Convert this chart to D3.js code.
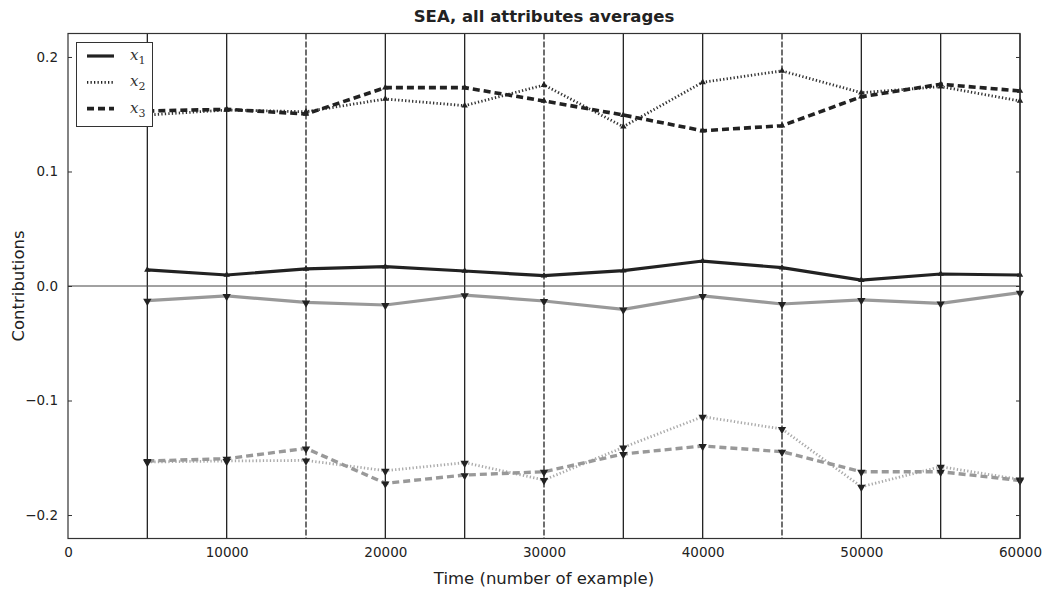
<!DOCTYPE html>
<html>
<head>
<meta charset="utf-8">
<script src="https://cdn.jsdelivr.net/npm/d3@7"></script>
<style>
  body { margin: 0; background: #fff; }
  svg { font-family: "DejaVu Sans", sans-serif; }
</style>
</head>
<body>
<svg id="chart" width="1048" height="592"></svg>
<script>
// time points (number of example)
const times = [5000, 10000, 15000, 20000, 25000, 30000, 35000, 40000, 45000, 50000, 55000, 60000];
const dashedTimes = [15000, 30000, 45000];

// positive contributions
const x1Pos = [0.0140, 0.0096, 0.0149, 0.0169, 0.0131, 0.0090, 0.0134, 0.0218, 0.0160, 0.0052, 0.0105, 0.0096];
const x2Pos = [0.1493, 0.1537, 0.1522, 0.1633, 0.1575, 0.1755, 0.1391, 0.1779, 0.1878, 0.1688, 0.1741, 0.1616];
const x3Pos = [0.1528, 0.1543, 0.1502, 0.1732, 0.1732, 0.1616, 0.1493, 0.1356, 0.1400, 0.1653, 0.1762, 0.1703];

// negative contributions
const x1Neg = [-0.0128, -0.0087, -0.0143, -0.0166, -0.0079, -0.0131, -0.0204, -0.0087, -0.0157, -0.0122, -0.0151, -0.0058];
const x2Neg = [-0.1537, -0.1528, -0.1523, -0.1613, -0.1543, -0.1694, -0.1409, -0.1141, -0.1249, -0.1753, -0.1578, -0.1690];
const x3Neg = [-0.1528, -0.1508, -0.1418, -0.1723, -0.1651, -0.1622, -0.1467, -0.1397, -0.1447, -0.1622, -0.1622, -0.1698];

const xTicks = [0, 10000, 20000, 30000, 40000, 50000, 60000];
const yTicks = [-0.2, -0.1, 0.0, 0.1, 0.2];
const legendNames = ["1", "2", "3"];

const svg = d3.select("#chart");
const pLeft = 68, pRight = 1020, pTop = 33.5, pBottom = 538.5;

const x = d3.scaleLinear().domain([0, 60000]).range([pLeft, pRight]);
const y = d3.scaleLinear().domain([-0.2205, 0.2205]).range([pBottom, pTop]);

const dark = "#222", gray = "#999";

// vertical markers
svg.append("g").selectAll("line").data(times).enter().append("line")
  .attr("x1", d => x(d)).attr("x2", d => x(d))
  .attr("y1", pTop).attr("y2", pBottom)
  .attr("stroke", dark).attr("stroke-width", 1.3)
  .attr("stroke-dasharray", d => dashedTimes.includes(d) ? "6,2" : null);

// zero line
svg.append("line")
  .attr("x1", pLeft).attr("x2", pRight)
  .attr("y1", y(0)).attr("y2", y(0))
  .attr("stroke", "#444").attr("stroke-width", 1);

const line = d3.line().x((d, i) => x(times[i])).y(d => y(d));

const series = [
  {v: x1Neg, color: gray, w: 3.2, dash: null, up: false},
  {v: x2Neg, color: "#aaa", w: 2.8, dash: "1.3,2.2", up: false},
  {v: x3Neg, color: gray, w: 3.4, dash: "7,4", up: false},
  {v: x1Pos, color: dark, w: 3.2, dash: null, up: true},
  {v: x2Pos, color: "#333", w: 2.8, dash: "1.3,2.2", up: true},
  {v: x3Pos, color: dark, w: 3.6, dash: "7,4", up: true}
];

series.forEach(s => {
  svg.append("path").datum(s.v)
    .attr("d", line)
    .attr("fill", "none")
    .attr("stroke", s.color)
    .attr("stroke-width", s.w)
    .attr("stroke-dasharray", s.dash);
});

const tri = d3.symbol().type(d3.symbolTriangle);
series.forEach(s => {
  svg.append("g").selectAll("path").data(s.v).enter().append("path")
    .attr("d", tri.size(s.up ? 18 : 30)())
    .attr("transform", (d, i) => `translate(${x(times[i])},${y(d) + (s.up ? 0 : 0.5)}) rotate(${s.up ? 0 : 180})`)
    .attr("fill", dark);
});

// frame
svg.append("rect")
  .attr("x", pLeft).attr("y", pTop)
  .attr("width", pRight - pLeft).attr("height", pBottom - pTop)
  .attr("fill", "none").attr("stroke", "#333").attr("stroke-width", 1.2);

// axes
const xAxis = d3.axisBottom(x).tickValues(xTicks).tickSize(0).tickPadding(9).tickFormat(d3.format("d"));
const gx = svg.append("g").attr("transform", `translate(0,${pBottom})`).call(xAxis);
gx.select(".domain").remove();
gx.selectAll("text").attr("font-size", 13.5).attr("font-family", "DejaVu Sans").attr("fill", "#222");

const fmtY = d => d === 0 ? "0.0" : d3.format(".1f")(d).replace("-", "\u2212");
const yAxis = d3.axisLeft(y).tickValues(yTicks).tickSizeInner(-4).tickSizeOuter(0).tickPadding(10).tickFormat(fmtY);
const gy = svg.append("g").attr("transform", `translate(${pLeft},0)`).call(yAxis);
gy.select(".domain").remove();
gy.selectAll("line").attr("stroke", "#333");
gy.selectAll("text").attr("font-size", 13.5).attr("font-family", "DejaVu Sans").attr("fill", "#222");

const gyr = svg.append("g").attr("transform", `translate(${pRight},0)`)
  .call(d3.axisRight(y).tickValues(yTicks).tickSizeInner(-4).tickSizeOuter(0).tickFormat(""));
gyr.select(".domain").remove();
gyr.selectAll("line").attr("stroke", "#333");

// title and labels
svg.append("text").attr("x", (pLeft + pRight) / 2).attr("y", 22)
  .attr("text-anchor", "middle").attr("font-weight", "bold").attr("font-size", 16.5)
  .attr("fill", "#222").text("SEA, all attributes averages");

svg.append("text").attr("x", (pLeft + pRight) / 2).attr("y", 584)
  .attr("text-anchor", "middle").attr("font-size", 16.5).attr("fill", "#222")
  .text("Time (number of example)");

svg.append("text").attr("transform", `translate(24,${(pTop + pBottom) / 2}) rotate(-90)`)
  .attr("text-anchor", "middle").attr("font-size", 16.5).attr("fill", "#222")
  .text("Contributions");

// legend
const lg = svg.append("g");
lg.append("rect").attr("x", 76.5).attr("y", 42.5).attr("width", 76).attr("height", 84)
  .attr("fill", "#fff").attr("stroke", "#333").attr("stroke-width", 1);
const legendStyles = [
  {w: 3.2, dash: null}, {w: 2.8, dash: "1.3,2.2"}, {w: 3.6, dash: "7,4"}
];
legendNames.forEach((n, i) => {
  const ly = 56 + i * 26.3;
  lg.append("line").attr("x1", 87).attr("x2", 114).attr("y1", ly).attr("y2", ly)
    .attr("stroke", dark).attr("stroke-width", legendStyles[i].w)
    .attr("stroke-dasharray", legendStyles[i].dash);
  const t = lg.append("text").attr("x", 130).attr("y", ly + 4)
    .attr("font-family", "DejaVu Serif").attr("font-style", "italic")
    .attr("font-size", 15).attr("fill", "#333");
  t.append("tspan").text("x");
  t.append("tspan").attr("dy", 4).attr("font-size", 11).attr("font-style", "normal").text(n);
});
</script>
</body>
</html>
